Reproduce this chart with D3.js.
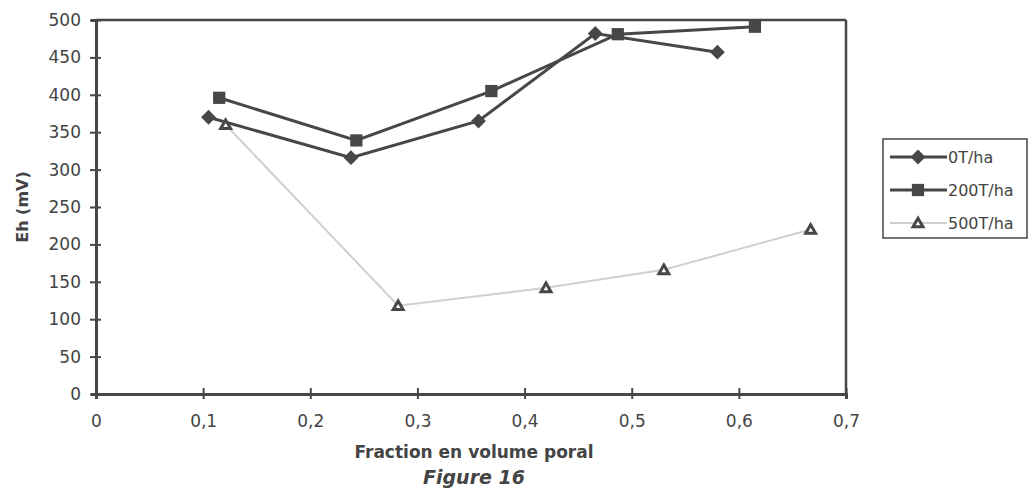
<html>
  <head>
    <meta charset="UTF-8">
    <script src="https://d3js.org/d3.v7.min.js"></script>
    <style>
      body {
        margin: 0;
        background: #fff;
        font-family: "DejaVu Sans", Arial, Helvetica, sans-serif;
      }
      text {
        fill: #444;
      }
    </style>
  </head>
  <body>
    <svg width="1033" height="496"></svg>
    <script>
      // values
      const seriesNames = ["0T/ha", "200T/ha", "500T/ha"];
      const x0T = [0.105, 0.238, 0.357, 0.466, 0.58];
      const y0T = [370, 316, 365, 482, 457];
      const x200T = [0.115, 0.243, 0.369, 0.487, 0.615];
      const y200T = [396, 339, 405, 481, 491];
      const x500T = [0.121, 0.282, 0.42, 0.53, 0.667];
      const y500T = [360, 118, 142, 166, 220];
      const xTicks = [0, 0.1, 0.2, 0.3, 0.4, 0.5, 0.6, 0.7];
      const yTicks = [0, 50, 100, 150, 200, 250, 300, 350, 400, 450, 500];

      const dark = "#474747";
      const light = "#d0d0d0";
      const font = "'DejaVu Sans', Arial, sans-serif";

      const svg = d3.select("svg");
      const x = d3.scaleLinear().domain([0, 0.7]).range([96, 846]);
      const y = d3.scaleLinear().domain([0, 500]).range([394, 20]);

      const series = [
        { name: seriesNames[0], xs: x0T, ys: y0T, color: dark, width: 3, shape: "diamond" },
        { name: seriesNames[1], xs: x200T, ys: y200T, color: dark, width: 3, shape: "square" },
        { name: seriesNames[2], xs: x500T, ys: y500T, color: light, width: 2, shape: "tri" }
      ];

      // frame: top and right thinner
      svg.append("line").attr("x1", x(0)).attr("x2", x(0.7)).attr("y1", y(500)).attr("y2", y(500))
        .attr("stroke", dark).attr("stroke-width", 2.5);
      svg.append("line").attr("x1", x(0.7)).attr("x2", x(0.7)).attr("y1", y(500)).attr("y2", y(0))
        .attr("stroke", dark).attr("stroke-width", 2.5);

      const yAxis = svg.append("g")
        .attr("transform", `translate(${x(0)},0)`)
        .call(d3.axisLeft(y).tickValues(yTicks).tickSize(5).tickFormat(d3.format("d")));
      const xAxis = svg.append("g")
        .attr("transform", `translate(0,${y(0)})`)
        .call(d3.axisBottom(x).tickValues(xTicks).tickSize(5).tickFormat((d) => String(d).replace(".", ",")));

      [yAxis, xAxis].forEach((a) => {
        a.select(".domain").attr("stroke", dark).attr("stroke-width", 3);
        a.selectAll(".tick line").attr("stroke", dark).attr("stroke-width", 2);
        a.selectAll(".tick text").attr("fill", "#444").style("font-size", "17px")
          .style("font-family", font);
      });
      // ticks cross the axis
      yAxis.selectAll(".tick line").attr("x1", 5).attr("x2", -6);
      yAxis.selectAll(".tick text").attr("x", -15);
      xAxis.selectAll(".tick line").attr("y1", -6).attr("y2", 5);
      xAxis.selectAll(".tick text").attr("y", 21);

      const line = d3.line().x((d) => x(d[0])).y((d) => y(d[1]));

      function drawMarker(g, shape, cx, cy) {
        if (shape === "tri") {
          g.append("path")
            .attr("d", d3.symbol(d3.symbolTriangle2, 70)())
            .attr("transform", `translate(${cx},${cy + 1})`)
            .attr("fill", "#fff").attr("stroke", dark).attr("stroke-width", 3);
        } else if (shape === "square") {
          g.append("path")
            .attr("d", d3.symbol(d3.symbolSquare, 150)())
            .attr("transform", `translate(${cx},${cy})`)
            .attr("fill", dark);
        } else {
          g.append("path")
            .attr("d", d3.symbol(d3.symbolSquare, 110)())
            .attr("transform", `translate(${cx},${cy}) rotate(45)`)
            .attr("fill", dark);
        }
      }

      series.forEach((s) => {
        const pts = s.xs.map((v, i) => [v, s.ys[i]]);
        svg.append("path").datum(pts)
          .attr("d", line)
          .attr("fill", "none")
          .attr("stroke", s.color)
          .attr("stroke-width", s.width);
        const g = svg.append("g");
        pts.forEach((p) => drawMarker(g, s.shape, x(p[0]), y(p[1])));
      });

      // axis titles
      svg.append("text")
        .attr("transform", `translate(28,${(y(0) + y(500)) / 2}) rotate(-90)`)
        .attr("text-anchor", "middle")
        .style("font-size", "16px").style("font-weight", "bold")
        .text("Eh (mV)");
      svg.append("text")
        .attr("x", 474).attr("y", 458)
        .attr("text-anchor", "middle")
        .style("font-size", "17px").style("font-weight", "bold")
        .text("Fraction en volume poral");
      svg.append("text")
        .attr("x", 474).attr("y", 484)
        .attr("text-anchor", "middle")
        .style("font-size", "19px").style("font-weight", "bold").style("font-style", "italic")
        .text("Figure 16");

      // legend
      const legend = svg.append("g");
      legend.append("rect")
        .attr("x", 883).attr("y", 139).attr("width", 144).attr("height", 99)
        .attr("fill", "#fff").attr("stroke", dark).attr("stroke-width", 1.5);
      series.forEach((s, i) => {
        const ly = 157 + i * 33;
        legend.append("line")
          .attr("x1", 890).attr("x2", 947).attr("y1", ly).attr("y2", ly)
          .attr("stroke", s.color).attr("stroke-width", s.width);
        drawMarker(legend, s.shape, 918, ly);
        legend.append("text")
          .attr("x", 948).attr("y", ly + 6)
          .style("font-size", "16px")
          .text(s.name);
      });
    </script>
  </body>
</html>
